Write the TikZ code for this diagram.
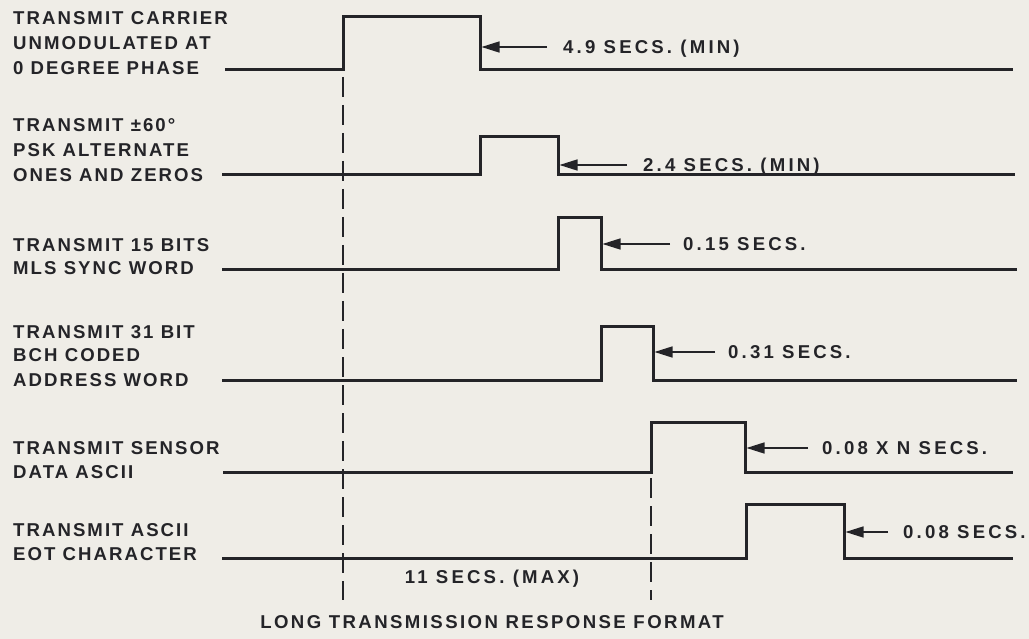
\documentclass[tikz,border=0pt]{standalone}
\usepackage{fontspec}
\newfontfamily\labfont{Liberation Sans}[LetterSpace=11]
\newfontfamily\durfont{Liberation Sans}[LetterSpace=17]
\newfontfamily\ttlfont{Liberation Sans}[LetterSpace=13]
\usetikzlibrary{arrows.meta}
\definecolor{paper}{RGB}{239,237,231}
\definecolor{ink}{RGB}{36,36,40}
\tikzset{
  sig/.style={draw=ink, line width=3pt, line join=miter},
  guide/.style={draw=ink, line width=1.7pt, dash pattern=on 20pt off 8pt},
  ptr/.style={draw=ink, line width=1.4pt, -{Triangle[length=18pt,width=11pt]}},
  txt/.style={text=ink, inner sep=0pt, anchor=base west, font=\labfont\bfseries\fontsize{18.6}{25}\selectfont},
  dtxt/.style={txt, font=\durfont\bfseries\fontsize{18.6}{25}\selectfont},
  ctxt/.style={txt, anchor=base, font=\ttlfont\bfseries\fontsize{18.6}{25}\selectfont}
}
\begin{document}
\begin{tikzpicture}[x=1pt,y=-1pt]
\fill[paper] (0,0) rectangle (1029,639);
\useasboundingbox (0,0) rectangle (1029,639);

% left labels
\node[txt] (l1a) at (13,25) {TRANSMIT CARRIER};
\node[txt] (l1b) at (13,50) {UNMODULATED AT};
\node[txt] (l1c) at (13,75) {0 DEGREE PHASE};
\node[txt] (l2a) at (13,131.5) {TRANSMIT ±60°};
\node[txt] (l2b) at (13,156.5) {PSK ALTERNATE};
\node[txt] (l2c) at (13,181.5) {ONES AND ZEROS};
\node[txt] (l3a) at (13,251.5) {TRANSMIT 15 BITS};
\node[txt] (l3b) at (13,275) {MLS SYNC WORD};
\node[txt] (l4a) at (13,338.5) {TRANSMIT 31 BIT};
\node[txt] (l4b) at (13,361.5) {BCH CODED};
\node[txt] (l4c) at (13,386) {ADDRESS WORD};
\node[txt] (l5a) at (13,454.5) {TRANSMIT SENSOR};
\node[txt] (l5b) at (13,478.5) {DATA ASCII};
\node[txt] (l6a) at (13,536.5) {TRANSMIT ASCII};
\node[txt] (l6b) at (13,560) {EOT CHARACTER};

% guide lines
\coordinate (g1t) at (343,77);
\coordinate (g1b) at (343,600);
\coordinate (g2t) at (651,478);
\coordinate (g2b) at (651,600);
\draw[guide] (g1t) -- (g1b);
\draw[guide] (g2t) -- (g2b);

% signal rows: start, low, rise, high, fall, end, arrow y, tail, label x, label
\foreach \n/\s/\lo/\r/\hi/\f/\e/\ay/\tl/\lx/\lab in {
  1/225/70/343/17/480/1013/47/547/563/{4.9 SECS. (MIN)},
  2/222/175/480/137/558/1015/165/627/643/{2.4 SECS. (MIN)},
  3/222/270/558/218/601/1017/244/670/683/{0.15 SECS.},
  4/222/380/601/327/653/1017/352/715/728/{0.31 SECS.},
  5/223/472/651/422/745/1013/448/808/822/{0.08 X N SECS.},
  6/222/558/746/504/844/1013/532/888/903/{0.08 SECS.}}{
  \draw[sig] (\s,\lo) -- (\r,\lo) -- (\r,\hi) -- (\f,\hi) -- (\f,\lo) -- (\e,\lo);
  \coordinate (tail\n) at (\tl,\ay);
  \coordinate (edge\n) at (\f+1.5,\ay);
  \draw[ptr] (tail\n) -- (edge\n);
  \node[dtxt] (dur\n) at (\lx,\ay+6.5) {\lab};
}

% bottom labels
\node[ctxt, font=\durfont\bfseries\fontsize{18.6}{25}\selectfont] (max) at (492,583.5) {11 SECS. (MAX)};
\node[ctxt] (title) at (492,628.5) {LONG TRANSMISSION RESPONSE FORMAT};
\end{tikzpicture}
\end{document}
